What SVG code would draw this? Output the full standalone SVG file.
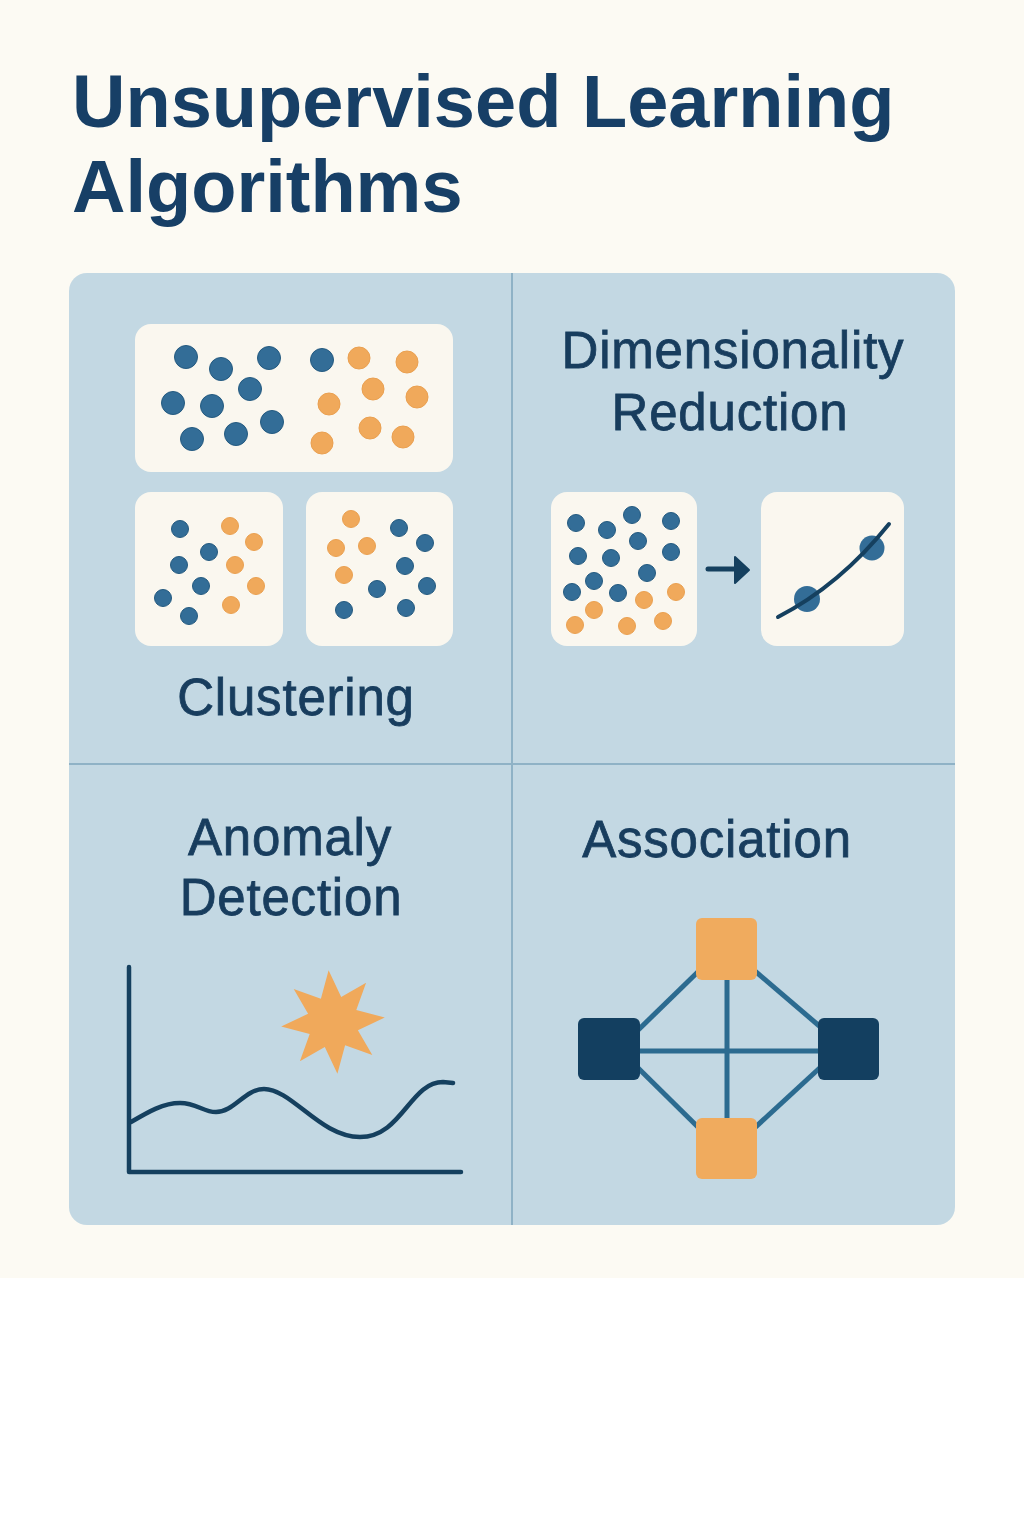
<svg xmlns="http://www.w3.org/2000/svg" width="1024" height="1536" viewBox="0 0 1024 1536">
<defs>
<style>
.title{font-family:"Liberation Sans",Arial,sans-serif;font-weight:bold;font-size:74px;fill:#173f66}
.label{font-family:"Liberation Sans",Arial,sans-serif;font-size:51px;fill:#183d5e;stroke:#183d5e;stroke-width:0.8;letter-spacing:0.8px;text-anchor:middle}
.card{fill:#faf7ef}
.b{fill:#336d97;stroke:#245a80;stroke-width:1}
.o{fill:#f0a95b;stroke:#eaa050;stroke-width:1}
.edge{stroke:#2c6b90;stroke-width:5;fill:none}
.ink{stroke:#15405f;fill:none;stroke-linecap:round}
</style>
</defs>
<rect x="0" y="0" width="1024" height="1536" fill="#ffffff"/>
<rect x="0" y="0" width="1024" height="1278" fill="#fcfaf3"/>
<text class="title" x="72" y="127">Unsupervised Learning</text>
<text class="title" x="72" y="212">Algorithms</text>

<g id="panel">
<rect x="69" y="273" width="886" height="952" rx="18" fill="#c3d8e3"/>
<line x1="512" y1="273" x2="512" y2="1225" stroke="#8fb2c6" stroke-width="2"/>
<line x1="69" y1="764" x2="955" y2="764" stroke="#8fb2c6" stroke-width="2"/>
</g>

<g id="clustering">
<rect class="card" x="135" y="324" width="318" height="148" rx="16"/>
<g>
<circle class="b" cx="186" cy="357" r="11.5"/>
<circle class="b" cx="221" cy="369" r="11.5"/>
<circle class="b" cx="269" cy="358" r="11.5"/>
<circle class="b" cx="250" cy="389" r="11.5"/>
<circle class="b" cx="173" cy="403" r="11.5"/>
<circle class="b" cx="212" cy="406" r="11.5"/>
<circle class="b" cx="272" cy="422" r="11.5"/>
<circle class="b" cx="192" cy="439" r="11.5"/>
<circle class="b" cx="236" cy="434" r="11.5"/>
<circle class="b" cx="322" cy="360" r="11.5"/>
<circle class="o" cx="359" cy="358" r="11"/>
<circle class="o" cx="407" cy="362" r="11"/>
<circle class="o" cx="373" cy="389" r="11"/>
<circle class="o" cx="417" cy="397" r="11"/>
<circle class="o" cx="329" cy="404" r="11"/>
<circle class="o" cx="370" cy="428" r="11"/>
<circle class="o" cx="403" cy="437" r="11"/>
<circle class="o" cx="322" cy="443" r="11"/>
</g>
<rect class="card" x="135" y="492" width="148" height="154" rx="16"/>
<g>
<circle class="b" cx="180" cy="529" r="8.5"/>
<circle class="b" cx="209" cy="552" r="8.5"/>
<circle class="b" cx="179" cy="565" r="8.5"/>
<circle class="b" cx="201" cy="586" r="8.5"/>
<circle class="b" cx="163" cy="598" r="8.5"/>
<circle class="b" cx="189" cy="616" r="8.5"/>
<circle class="o" cx="230" cy="526" r="8.5"/>
<circle class="o" cx="254" cy="542" r="8.5"/>
<circle class="o" cx="235" cy="565" r="8.5"/>
<circle class="o" cx="256" cy="586" r="8.5"/>
<circle class="o" cx="231" cy="605" r="8.5"/>
</g>
<rect class="card" x="306" y="492" width="147" height="154" rx="16"/>
<g>
<circle class="o" cx="351" cy="519" r="8.5"/>
<circle class="o" cx="336" cy="548" r="8.5"/>
<circle class="o" cx="367" cy="546" r="8.5"/>
<circle class="o" cx="344" cy="575" r="8.5"/>
<circle class="b" cx="399" cy="528" r="8.5"/>
<circle class="b" cx="425" cy="543" r="8.5"/>
<circle class="b" cx="405" cy="566" r="8.5"/>
<circle class="b" cx="427" cy="586" r="8.5"/>
<circle class="b" cx="377" cy="589" r="8.5"/>
<circle class="b" cx="344" cy="610" r="8.5"/>
<circle class="b" cx="406" cy="608" r="8.5"/>
</g>
<text class="label" x="296" y="715">Clustering</text>
</g>

<g id="dimensionality-reduction">
<text class="label" x="733" y="368">Dimensionality</text>
<text class="label" x="730" y="430">Reduction</text>
<rect class="card" x="551" y="492" width="146" height="154" rx="16"/>
<g>
<circle class="b" cx="576" cy="523" r="8.5"/>
<circle class="b" cx="607" cy="530" r="8.5"/>
<circle class="b" cx="632" cy="515" r="8.5"/>
<circle class="b" cx="671" cy="521" r="8.5"/>
<circle class="b" cx="578" cy="556" r="8.5"/>
<circle class="b" cx="611" cy="558" r="8.5"/>
<circle class="b" cx="638" cy="541" r="8.5"/>
<circle class="b" cx="671" cy="552" r="8.5"/>
<circle class="b" cx="594" cy="581" r="8.5"/>
<circle class="b" cx="647" cy="573" r="8.5"/>
<circle class="b" cx="572" cy="592" r="8.5"/>
<circle class="b" cx="618" cy="593" r="8.5"/>
<circle class="o" cx="676" cy="592" r="8.5"/>
<circle class="o" cx="644" cy="600" r="8.5"/>
<circle class="o" cx="594" cy="610" r="8.5"/>
<circle class="o" cx="575" cy="625" r="8.5"/>
<circle class="o" cx="627" cy="626" r="8.5"/>
<circle class="o" cx="663" cy="621" r="8.5"/>
</g>
<line class="ink" x1="708" y1="569" x2="738" y2="569" stroke-width="5"/>
<path d="M735,557 L749,570 L735,583 Z" fill="#15405f" stroke="#15405f" stroke-width="2" stroke-linejoin="round"/>
<rect class="card" x="761" y="492" width="143" height="154" rx="16"/>
<circle cx="807" cy="599" r="13" fill="#336d97"/>
<circle cx="872" cy="548" r="12.5" fill="#336d97"/>
<path class="ink" d="M778,617 Q840,585 889,524" stroke-width="4"/>
</g>

<g id="anomaly-detection">
<text class="label" x="290" y="855">Anomaly</text>
<text class="label" x="291" y="915">Detection</text>
<path class="ink" d="M129,967 L129,1172 L461,1172" stroke-width="4.5" stroke-linejoin="round"/>
<path d="M328.6,970.2 L341.2,997.1 L366.1,982.7 L356.3,1009.9 L384.8,1017.6 L357.9,1030.2 L372.3,1055.1 L345.1,1045.3 L337.4,1073.8 L324.8,1046.9 L299.9,1061.3 L309.7,1034.1 L281.2,1026.4 L308.1,1013.8 L293.7,988.9 L320.9,998.7 Z" fill="#f0a95b"/>
<path class="ink" d="M131,1122 C148,1112 163,1103 180,1103 C197,1103 203,1112 216,1112 C234,1112 245,1089 264,1089 C292,1089 320,1137 360,1137 C402,1137 410,1082 443,1082 L453,1083" stroke-width="4.5"/>
</g>

<g id="association">
<text class="label" x="717" y="857">Association</text>
<g id="connectors">
<line class="edge" x1="705" y1="965" x2="632" y2="1036"/>
<line class="edge" x1="748" y1="965" x2="824" y2="1030"/>
<line class="edge" x1="632" y1="1062" x2="705" y2="1134"/>
<line class="edge" x1="824" y1="1064" x2="748" y2="1134"/>
<line class="edge" x1="727" y1="975" x2="727" y2="1125"/>
<line class="edge" x1="635" y1="1051" x2="822" y2="1051"/>
</g>
<g id="node-top"><rect x="696" y="918" width="61" height="62" rx="6" fill="#f0ab5e"/></g>
<g id="node-bottom"><rect x="696" y="1118" width="61" height="61" rx="6" fill="#f0ab5e"/></g>
<g id="node-left"><rect x="578" y="1018" width="62" height="62" rx="6" fill="#133f60"/></g>
<g id="node-right"><rect x="818" y="1018" width="61" height="62" rx="6" fill="#133f60"/></g>
</g>
</svg>
